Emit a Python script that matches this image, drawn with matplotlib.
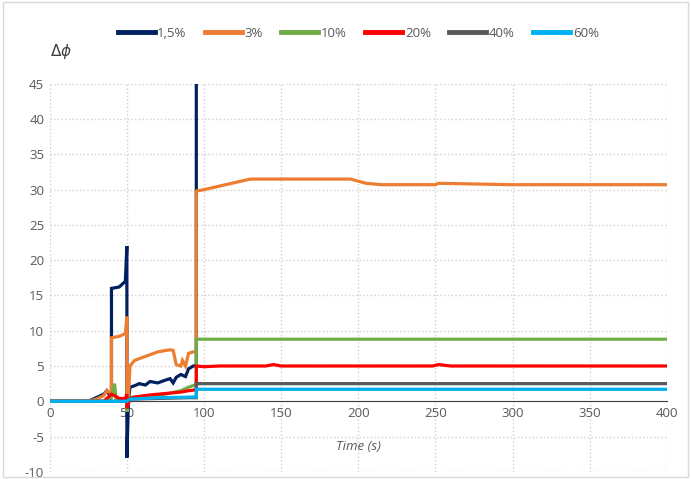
import matplotlib.pyplot as plt
from matplotlib.patches import Rectangle

plt.rcParams['font.family'] = ['Open Sans', 'DejaVu Sans']
plt.rcParams['axes.unicode_minus'] = False

labels = ['1,5%', '3%', '10%', '20%', '40%', '60%']
colors = ['#002060', '#ED7D31', '#70AD47', '#FF0000', '#595959', '#00B0F0']

# series (time in s, delta phi)
t_15 = [0, 25, 30, 35, 37, 39, 40, 40, 45, 48, 49, 50, 50, 51, 52, 55, 58, 62, 65, 70, 75, 78, 80, 82, 85, 88, 90, 93, 95, 95, 400]
v_15 = [0, 0, 0.5, 1, 1.5, 0.8, 1, 16, 16.2, 16.8, 17, 22, -8, 0, 2, 2.2, 2.5, 2.3, 2.8, 2.6, 3, 3.2, 2.6, 3.4, 3.8, 3.5, 4.6, 5, 5, 60, 60]

t_3 = [0, 25, 30, 35, 37, 39, 40, 40, 45, 48, 49, 50, 50, 51, 52, 55, 60, 65, 70, 75, 78, 80, 82, 85, 86, 88, 90, 93, 95, 95, 100, 110, 120, 130, 150, 180, 195, 200, 205, 215, 250, 252, 300, 400]
v_3 = [0, 0, 0.3, 0.8, 1.5, 1.2, 1.5, 9, 9.2, 9.5, 9.6, 12, 0, 0.5, 5, 5.8, 6.2, 6.6, 7, 7.2, 7.3, 7.2, 5.2, 5, 5.8, 5, 6.8, 7, 7, 29.8, 30, 30.5, 31, 31.5, 31.5, 31.5, 31.5, 31.2, 30.9, 30.7, 30.7, 30.9, 30.7, 30.7]

t_10 = [0, 38, 40, 42, 43, 45, 49, 50, 50, 51, 55, 65, 75, 85, 90, 94, 95, 95, 400]
v_10 = [0, 0, 0.5, 2.5, 0.3, 0.2, 0.2, 0.5, -1.5, 0.5, 0.6, 0.8, 1.0, 1.5, 2, 2.3, 2.3, 8.8, 8.8]

t_20 = [0, 35, 40, 42, 45, 49, 50, 50, 52, 55, 65, 75, 85, 90, 94, 95, 95, 100, 110, 140, 145, 150, 248, 252, 260, 400]
v_20 = [0, 0, 1.0, 0.8, 0.4, 0.4, 1, -1, 0.4, 0.6, 0.9, 1.1, 1.3, 1.5, 1.6, 1.6, 5, 4.9, 5, 5, 5.2, 5, 5, 5.2, 5, 5]

t_40 = [0, 50, 52, 70, 90, 95, 95, 400]
v_40 = [0, 0, 0.3, 0.4, 0.5, 0.5, 2.5, 2.5]

t_60 = [0, 50, 52, 70, 94, 95, 95, 400]
v_60 = [0, 0, 0.3, 0.5, 0.6, 0.6, 1.7, 1.7]

series = [(t_15, v_15), (t_3, v_3), (t_10, v_10), (t_20, v_20), (t_40, v_40), (t_60, v_60)]

fig = plt.figure(figsize=(6.91, 4.79), dpi=100)
ax = fig.add_axes([0.072, 0.015, 0.893, 0.81])

for (t, v), lab, c in zip(series, labels, colors):
    ax.plot(t, v, color=c, lw=2.3, label=lab, solid_joinstyle='miter')

ax.set_xlim(0, 400)
ax.set_ylim(-10, 45)
ax.set_xticks(range(0, 401, 50))
ax.set_yticks(range(-10, 46, 5))
ax.grid(True, color='#D0D0D0', ls=':', lw=1)
ax.set_axisbelow(True)

for s in ['top', 'right', 'left']:
    ax.spines[s].set_visible(False)
ax.spines['bottom'].set_position(('data', 0))
ax.spines['bottom'].set_color('#404040')
ax.spines['bottom'].set_linewidth(0.8)
ax.spines['bottom'].set_zorder(1)
ax.tick_params(length=0, labelsize=9.5, labelcolor='#595959', pad=4)

ax.text(0.0, 1.06, r'$\mathit{\Delta\phi}$', transform=ax.transAxes, fontsize=11,
        color='#404040', ha='left', va='bottom')
ax.text(0.5, 0.065, 'Time (s)', transform=ax.transAxes, fontsize=9.5,
        style='italic', color='#595959', ha='center', va='center')

leg = ax.legend(loc='center', bbox_to_anchor=(0.5, 1.13), ncol=6, frameon=False,
                fontsize=9.5, labelcolor='#595959', handlelength=2.8, handletextpad=0.2,
                columnspacing=1.4)
for h in leg.get_lines():
    h.set_linewidth(3.5)

fig.patches.append(Rectangle((0.005, 0.005), 0.99, 0.99, transform=fig.transFigure,
                             fill=False, edgecolor='#D9D9D9', lw=1))

fig.savefig('out.png', dpi=100)
